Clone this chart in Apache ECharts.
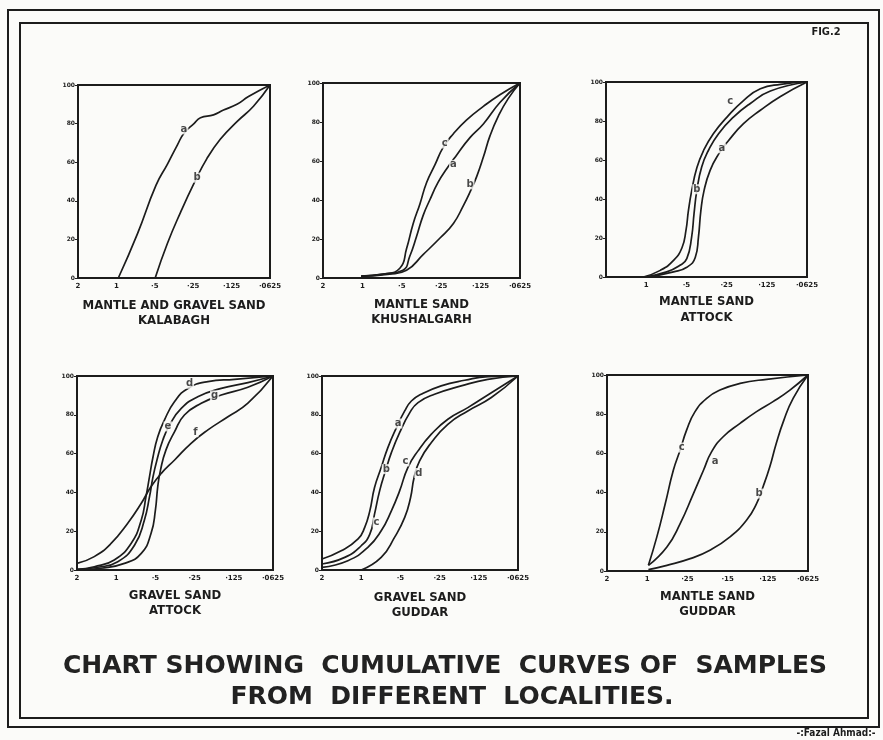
<!DOCTYPE html>
<html><head><meta charset="utf-8">
<script src="https://cdn.jsdelivr.net/npm/echarts@6/dist/echarts.min.js"></script>
<style>html,body{margin:0;padding:0;background:#fbfbf9}#c{width:883px;height:740px}</style>
</head><body><div id="c"></div>
<script>
// ---- tick labels ----
const yTickLabels = ['0', '20', '40', '60', '80', '100'];
const xTicksKalabagh = ['2', '1', '·5', '·25', '·125', '·0625'];
const xTicksKhushalgarh = ['2', '1', '·5', '·25', '·125', '·0625'];
const xTicksAttockMantle = ['', '1', '·5', '·25', '·125', '·0625'];
const xTicksAttockGravel = ['2', '1', '·5', '·25', '·125', '·0625'];
const xTicksGuddarGravel = ['2', '1', '·5', '·25', '·125', '·0625'];
const xTicksGuddarMantle = ['2', '1', '·25', '·15', '·125', '·0625'];

// ---- panel captions ----
const captionKalabagh = ['MANTLE AND GRAVEL SAND', 'KALABAGH'];
const captionKhushalgarh = ['MANTLE SAND', 'KHUSHALGARH'];
const captionAttockMantle = ['MANTLE SAND', 'ATTOCK'];
const captionAttockGravel = ['GRAVEL SAND', 'ATTOCK'];
const captionGuddarGravel = ['GRAVEL SAND', 'GUDDAR'];
const captionGuddarMantle = ['MANTLE SAND', 'GUDDAR'];
const mainTitle = ['CHART SHOWING  CUMULATIVE  CURVES OF  SAMPLES', 'FROM  DIFFERENT  LOCALITIES.'];
const figLabel = 'FIG.2';
const authorLabel = '-:Fazal Ahmad:-';

// ---- curves: [size-scale position (0 = "2" ... 5 = last tick), cumulative %] ----
const kalabaghA = [[1.05,0],[1.55,23],[2.03,48],[2.33,59],[2.59,69],[2.76,75],[3.02,80],[3.19,83],[3.53,84.5],[3.79,87],[4.14,90],[4.44,94],[5,100]];
const kalabaghB = [[2.01,0],[2.33,18],[2.67,34],[3.02,49],[3.36,62],[3.71,72],[4.14,81],[4.57,89],[5,100]];
const kalabaghLetters = [[2.76,77,'a'],[3.1,52,'b']];

const khushalgarhC = [[0.97,1],[1.53,2],[1.95,5],[2.12,15],[2.29,28],[2.46,38],[2.63,49],[2.84,58],[3.05,67],[3.31,74],[3.64,81],[4.07,88],[4.49,94],[5,100]];
const khushalgarhA = [[0.97,1],[1.53,2],[2.03,4],[2.2,11],[2.37,21],[2.54,32],[2.71,40],[2.92,49],[3.14,56],[3.39,63],[3.73,72],[4.07,79],[4.49,90],[5,100]];
const khushalgarhB = [[0.97,1],[1.69,2],[2.12,4],[2.54,12],[2.97,20.5],[3.31,28],[3.56,37],[3.73,44],[3.9,52],[4.07,62],[4.24,73],[4.45,83],[4.7,92],[5,100]];
const khushalgarhLetters = [[3.09,69,'c'],[3.31,58,'a'],[3.73,48,'b']];

const attockMantleC = [[0.93,0],[1.35,3.4],[1.68,8.5],[1.89,15],[1.99,24],[2.05,34],[2.13,44],[2.26,56],[2.43,65],[2.67,73.5],[3.01,82],[3.42,90.5],[3.84,96.5],[4.34,98.8],[5,100]];
const attockMantleB = [[0.97,0],[1.51,2.6],[1.84,6],[2.01,9.4],[2.13,20.5],[2.19,32.5],[2.26,44.4],[2.38,56.4],[2.55,65],[2.8,73.5],[3.17,82],[3.59,89],[4.09,95.4],[5,100]];
const attockMantleA = [[1.05,0],[1.68,2.6],[2.01,5],[2.22,10],[2.3,20.5],[2.36,34],[2.44,44.4],[2.59,54.7],[2.8,63],[3.05,70],[3.42,78.6],[3.84,85.5],[4.34,92.6],[5,100]];
const attockMantleLetters = [[3.09,90,'c'],[2.26,45,'b'],[2.88,66,'a']];

const attockGravelD = [[0,0.3],[0.44,1.7],[0.95,5.2],[1.38,13.7],[1.64,25.8],[1.76,37.8],[1.85,48.1],[1.94,58.4],[2.06,68.7],[2.23,77.3],[2.49,86.8],[2.83,93.6],[3.34,97.1],[4.02,98.3],[5,100]];
const attockGravelE = [[0,0.3],[0.53,1.4],[1.04,4.3],[1.47,12.9],[1.72,25.8],[1.85,37.8],[1.94,48.1],[2.04,56.7],[2.19,67],[2.36,74.7],[2.66,83.3],[3.08,89.3],[3.68,93.6],[4.36,96.6],[5,100]];
const attockGravelG = [[0,0],[0.61,0.9],[1.21,3.4],[1.64,8.6],[1.89,18.9],[2,30.9],[2.06,43],[2.13,51.5],[2.27,61.9],[2.49,71.3],[2.74,79.9],[3.17,85.9],[3.68,90.2],[4.36,94.2],[5,100]];
const attockGravelF = [[0,3.4],[0.44,6.9],[0.87,13.7],[1.29,24],[1.64,34.4],[1.89,43],[2.15,49.8],[2.49,56.7],[2.91,65.3],[3.34,72.2],[3.85,79],[4.36,86],[5,100]];
const attockGravelLetters = [[2.87,96,'d'],[3.51,90,'g'],[2.32,74,'e'],[3.02,71,'f']];

const guddarGravelA = [[0,5.7],[0.49,9.9],[0.92,16],[1.09,22],[1.22,30.5],[1.34,42.5],[1.51,52.8],[1.68,63.1],[1.9,73.4],[2.11,82],[2.28,87.1],[2.53,90.6],[3.04,94.9],[3.64,97.8],[4.23,99.7],[5,100]];
const guddarGravelB = [[0,3.1],[0.58,6.5],[1,12.5],[1.22,18.5],[1.34,28.8],[1.47,40.8],[1.62,51.1],[1.77,60.5],[1.98,70.8],[2.24,81.1],[2.45,86.3],[2.87,90.6],[3.55,94.9],[4.23,98.3],[5,100]];
const guddarGravelC = [[0,1.4],[0.66,4.8],[1.17,11.7],[1.51,20.2],[1.77,30.5],[1.98,40.8],[2.19,52.8],[2.45,61.4],[2.79,70],[3.21,77.7],[3.72,83.7],[4.32,91.4],[5,100]];
const guddarGravelD = [[1,0],[1.51,6.5],[1.85,16.8],[2.11,27.1],[2.26,37.4],[2.35,47.7],[2.49,56.3],[2.79,65.7],[3.21,75.1],[3.72,82],[4.32,88.9],[5,100]];
const guddarGravelLetters = [[1.94,75.5,'a'],[1.64,52,'b'],[1.39,24.5,'c'],[2.13,56,'c'],[2.47,50,'d']];

const guddarMantleC = [[1.03,2.9],[1.24,17.4],[1.45,34.4],[1.65,51.4],[1.82,61.7],[1.98,71.9],[2.19,81.3],[2.48,88.1],[2.81,92.3],[3.31,95.7],[3.97,97.8],[5,100]];
const guddarMantleA = [[1.03,2.9],[1.49,12.3],[1.82,24.2],[2.15,39.5],[2.4,51.4],[2.6,60.8],[2.89,68.5],[3.31,75.3],[3.72,81.3],[4.13,86.4],[4.55,92.3],[5,100]];
const guddarMantleB = [[1.03,0.7],[1.49,2.9],[2.07,6.3],[2.56,10.6],[3.06,17.4],[3.47,25.9],[3.72,34.4],[3.88,42.9],[4.05,53.2],[4.21,65.1],[4.4,77],[4.63,88.1],[5,100]];
const guddarMantleLetters = [[1.86,63,'c'],[2.69,56,'a'],[3.78,39.5,'b']];

// ---- assemble panels (layout kept here, not in the data) ----
const panels = [
  {box:[78,85,192,193], xt:xTicksKalabagh, cap:captionKalabagh, capY:[306,321], curves:[kalabaghA,kalabaghB], letters:kalabaghLetters},
  {box:[323,83,197,195], xt:xTicksKhushalgarh, cap:captionKhushalgarh, capY:[305,320], curves:[khushalgarhC,khushalgarhA,khushalgarhB], letters:khushalgarhLetters},
  {box:[606,82,201,195], xt:xTicksAttockMantle, cap:captionAttockMantle, capY:[302,318], curves:[attockMantleC,attockMantleB,attockMantleA], letters:attockMantleLetters},
  {box:[77,376,196,194], xt:xTicksAttockGravel, cap:captionAttockGravel, capY:[596,611], curves:[attockGravelD,attockGravelE,attockGravelG,attockGravelF], letters:attockGravelLetters},
  {box:[322,376,196,194], xt:xTicksGuddarGravel, cap:captionGuddarGravel, capY:[598,613], curves:[guddarGravelA,guddarGravelB,guddarGravelC,guddarGravelD], letters:guddarGravelLetters},
  {box:[607,375,201,196], xt:xTicksGuddarMantle, cap:captionGuddarMantle, capY:[597,612], curves:[guddarMantleC,guddarMantleA,guddarMantleB], letters:guddarMantleLetters}
];

const INK = '#1c1c1c';
const BG = '#fbfbf9';
const F = "'DejaVu Sans', sans-serif";
const grid = [], xAxis = [], yAxis = [], series = [], graphic = [];

panels.forEach((p, i) => {
  const [l, t, w, h] = p.box;
  grid.push({left:l, top:t, width:w, height:h, show:true, borderColor:INK, borderWidth:2, backgroundColor:'transparent'});
  xAxis.push({type:'value', gridIndex:i, min:0, max:5, interval:1,
    axisLine:{show:false}, splitLine:{show:false},
    axisTick:{show:false},
    axisLabel:{margin:5, fontSize:7, color:INK, fontFamily:F, fontWeight:'bold',
      formatter:(v)=>p.xt[Math.round(v)] || ''}});
  yAxis.push({type:'value', gridIndex:i, min:0, max:100, interval:20,
    axisLine:{show:false}, splitLine:{show:false},
    axisTick:{show:true, length:3, lineStyle:{color:INK, width:1}},
    axisLabel:{margin:3, fontSize:6, color:INK, fontFamily:F, fontWeight:'bold',
      formatter:(v)=>yTickLabels[Math.round(v/20)]}});
  p.curves.forEach(c => {
    series.push({type:'line', xAxisIndex:i, yAxisIndex:i, data:c, smooth:0.5,
      showSymbol:false, silent:true, lineStyle:{color:INK, width:1.7}, z:3});
  });
  series.push({type:'scatter', xAxisIndex:i, yAxisIndex:i, symbolSize:0, silent:true, z:5,
    data:p.letters.map(d=>({value:[d[0], d[1]], name:d[2]})),
    label:{show:true, position:'inside', formatter:'{b}', fontSize:10, fontWeight:'bold',
      fontFamily:F, color:INK, backgroundColor:BG, padding:[0,1]}});
  const cx = l + w/2;
  p.cap.forEach((s, k) => {
    graphic.push({type:'text', x:cx, y:p.capY[k], z:10,
      style:{text:s, textAlign:'center', textVerticalAlign:'middle',
        font:"bold 13px 'DejaVu Sans Condensed', 'DejaVu Sans', sans-serif", fill:INK}});
  });
});

// frames
graphic.push({type:'rect', shape:{x:8, y:10, width:871, height:717}, style:{fill:null, stroke:INK, lineWidth:2}, z:1});
graphic.push({type:'rect', shape:{x:20, y:23, width:848, height:695}, style:{fill:null, stroke:INK, lineWidth:2}, z:1});
graphic.push({type:'text', x:826, y:32, style:{text:figLabel, textAlign:'center', textVerticalAlign:'middle', font:"bold 11px 'DejaVu Sans Condensed', sans-serif", fill:INK}, z:10});
graphic.push({type:'text', x:836, y:733, style:{text:authorLabel, textAlign:'center', textVerticalAlign:'middle', font:"bold 10px 'DejaVu Sans Condensed', sans-serif", fill:INK, backgroundColor:BG}, z:10});
graphic.push({type:'text', x:445, y:666, style:{text:mainTitle[0], textAlign:'center', textVerticalAlign:'middle', font:"bold 25px 'DejaVu Sans', sans-serif", fill:'#222'}, z:10});
graphic.push({type:'text', x:452, y:697, style:{text:mainTitle[1], textAlign:'center', textVerticalAlign:'middle', font:"bold 25px 'DejaVu Sans', sans-serif", fill:'#222'}, z:10});

const chart = echarts.init(document.getElementById('c'), null, {renderer:'canvas'});
chart.setOption({backgroundColor:BG, animation:false, grid, xAxis, yAxis, series, graphic});
</script>
</body></html>
